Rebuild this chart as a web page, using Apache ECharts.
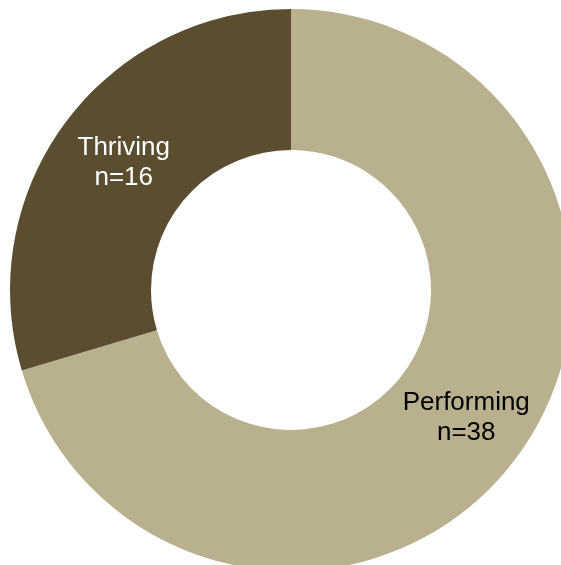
<!DOCTYPE html>
<html><head><meta charset="utf-8">
<script src="https://cdn.jsdelivr.net/npm/echarts@6/dist/echarts.min.js"></script>
<style>html,body{margin:0;padding:0;background:#fff}#c{width:561px;height:565px}</style>
</head><body><div id="c"></div>
<script>
const categories = ["Performing", "Thriving"];
const values = [38, 16];
const colors = ["#b9b08e", "#5a4d30"];
const textColors = ["#000000", "#ffffff"];
const chart = echarts.init(document.getElementById('c'));
chart.setOption({
  animation: false,
  series: [{
    type: 'pie',
    center: [291, 290],
    radius: [140, 281],
    startAngle: 90,
    clockwise: true,
    label: {
      show: true, position: 'inside',
      fontFamily: 'Liberation Sans', fontSize: 26, lineHeight: 30,
      offset: [4, 0],
      formatter: p => p.name + '\nn=' + p.value
    },
    labelLine: {show: false},
    itemStyle: {borderWidth: 0},
    emphasis: {disabled: true},
    data: categories.map((c, i) => ({
      name: c, value: values[i],
      itemStyle: {color: colors[i]},
      label: {color: textColors[i]}
    }))
  }]
});
</script></body></html>
